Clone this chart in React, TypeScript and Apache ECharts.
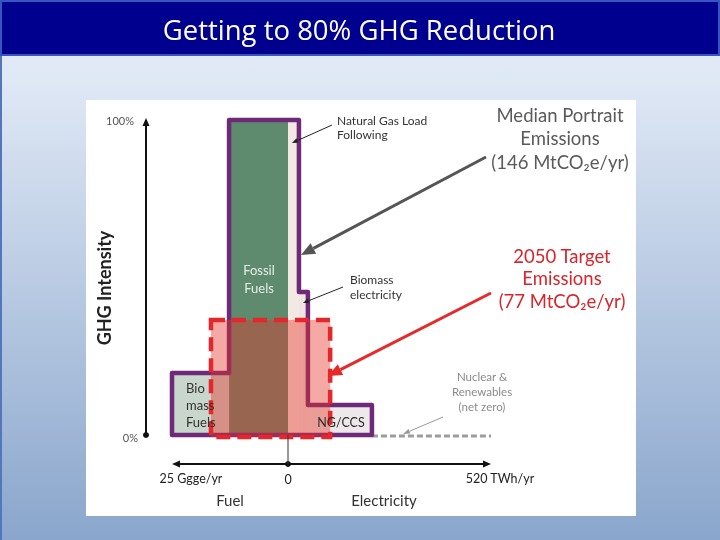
import React, { useEffect, useRef } from 'react';
import * as echarts from 'echarts';

// ---------- data ----------
const TITLE = 'Getting to 80% GHG Reduction';
const segmentNames = ['Biomass Fuels', 'Fossil Fuels', 'Natural Gas Load Following', 'Biomass electricity', 'NG/CCS', 'Nuclear & Renewables'];
const segmentSides = ['fuel', 'fuel', 'electricity', 'electricity', 'electricity', 'electricity'];
const segmentFrom = [25, 12.7, 0, 28, 51, 215]; // Ggge/yr (fuel) or TWh/yr (electricity)
const segmentTo = [12.7, 0, 28, 51, 215, 520];
const segmentIntensity = [19.7, 100, 100, 45.4, 9.5, 0]; // % GHG intensity
const targetFuel = 16.6; // Ggge/yr
const targetElectricity = 108; // TWh/yr
const targetIntensity = 36.5; // %
const fuelAxisMax = 25; // Ggge/yr
const electricityAxisMax = 520; // TWh/yr
const yTicks = [0, 100];
const yTickLabels = ['0%', '100%'];
const xTickLabels = ['25 Ggge/yr', '0', '520 TWh/yr'];
const medianEmissions = 146;
const targetEmissions = 77;

// ---------- styling ----------
const FUEL_TO_AXIS = 11.886; // width of 1 Ggge/yr in TWh-axis units on the drawing
const FONT = 'Lato';
const segmentColors = ['#c8d6cc', '#5e8b6e', '#f4e8e4', '#efe6e4', '#ede8e9', '#9c9c9c'];
const toX = (side: string, v: number) => (side === 'fuel' ? -v * FUEL_TO_AXIS : v);

function arrowEls(x1: number, y1: number, x2: number, y2: number, color: string, w: number, hl: number, hw: number, z = 50) {
  const a = Math.atan2(y2 - y1, x2 - x1);
  const bx = x2 - hl * Math.cos(a);
  const by = y2 - hl * Math.sin(a);
  const px = (-Math.sin(a) * hw) / 2;
  const py = (Math.cos(a) * hw) / 2;
  return [
    { type: 'line', z, shape: { x1, y1, x2: bx, y2: by }, style: { stroke: color, lineWidth: w } },
    { type: 'polygon', z, shape: { points: [[x2, y2], [bx + px, by + py], [bx - px, by - py]] }, style: { fill: color } },
  ];
}

function txt(text: string, x: number, y: number, size: number, color: string, align = 'center', extra: any = {}) {
  return {
    type: 'text',
    z: 60,
    x,
    y,
    ...extra,
    style: {
      text,
      fill: color,
      font: `${extra.weight || 'normal'} ${size}px ${FONT}`,
      textAlign: align,
      align,
      textVerticalAlign: 'middle',
      verticalAlign: 'middle',
      lineHeight: extra.lineHeight || size * 1.2,
    },
  };
}

export default function App() {
  const ref = useRef<HTMLDivElement>(null);
  useEffect(() => {
    if (!ref.current) return;
    const chart = echarts.init(ref.current, null, { renderer: 'svg' });

    const segData = segmentNames.map((_, i) => [
      toX(segmentSides[i], segmentFrom[i]),
      toX(segmentSides[i], segmentTo[i]),
      segmentIntensity[i],
      i,
    ]);

    const graphic: any[] = [
      { type: 'rect', z: -20, shape: { x: 0, y: 0, width: 720, height: 540 },
        style: { fill: { type: 'linear', x: 0, y: 0, x2: 0, y2: 1, colorStops: [{ offset: 0, color: '#e4ecf7' }, { offset: 0.15, color: '#dfe8f5' }, { offset: 1, color: '#8aa6cc' }] } } },
      { type: 'rect', z: -19, shape: { x: 0, y: 55, width: 2, height: 485 }, style: { fill: '#5476bd' } },
      { type: 'rect', z: -18, shape: { x: 1, y: 1, width: 718, height: 54 }, style: { fill: '#00008f', stroke: '#3556c0', lineWidth: 2 } },
      { type: 'text', z: -17, x: 359, y: 29, style: { text: TITLE, fill: '#ffffff', font: 'normal 27.5px "Open Sans"', textAlign: 'center', align: 'center', textVerticalAlign: 'middle', verticalAlign: 'middle' } },
      { type: 'rect', z: -16, shape: { x: 86, y: 100, width: 550, height: 416 }, style: { fill: '#ffffff' } },
      // segment labels
      txt('Fossil\nFuels', 259, 279, 13, '#e6eee6', 'center', { lineHeight: 18 }),
      txt('Bio\nmass\nFuels', 186, 405, 13, '#333333', 'left', { lineHeight: 17 }),
      txt('NG/CCS', 341, 422, 12.5, '#2a2a2a'),
      txt('Natural Gas Load\nFollowing', 337, 127, 12, '#333333', 'left', { lineHeight: 14 }),
      txt('Biomass\nelectricity', 350, 287, 12, '#333333', 'left', { lineHeight: 14.5 }),
      txt('Nuclear &\nRenewables\n(net zero)', 482, 391, 11.5, '#8a8a8a', 'center', { lineHeight: 15 }),
      txt(`Median Portrait\nEmissions\n(${medianEmissions} MtCO₂e/yr)`, 560, 138, 18.5, '#5a5a5a', 'center', { lineHeight: 23.5 }),
      txt(`2050 Target\nEmissions\n(${targetEmissions} MtCO₂e/yr)`, 562, 278, 18.5, '#d8252c', 'center', { lineHeight: 22.5 }),
      txt('GHG Intensity', 104, 288, 18, '#222222', 'center', { rotation: Math.PI / 2, weight: 'bold' }),
      txt('Fuel', 230, 500, 15, '#333333'),
      txt('Electricity', 384, 500, 15, '#333333'),
      ...arrowEls(332, 125, 292, 143, '#222222', 1, 6, 5),
      ...arrowEls(343, 287, 303, 303, '#222222', 1, 6, 5),
      ...arrowEls(486, 157, 301, 255, '#555555', 3, 14, 12),
      ...arrowEls(491, 293, 328, 376, '#e52a2a', 3, 14, 12),
      ...arrowEls(443, 417, 403, 434, '#999999', 1, 7, 5),
    ];

    const option: any = {
      animation: false,
      graphic,
      grid: { left: 172, right: 229, top: 120, bottom: 105 },
      xAxis: { type: 'value', min: -fuelAxisMax * FUEL_TO_AXIS, max: electricityAxisMax, show: false },
      yAxis: { type: 'value', min: yTicks[0], max: yTicks[1], show: false },
      series: [
        {
          type: 'custom',
          name: 'segments',
          z: 1,
          clip: false,
          data: segData,
          encode: { x: [0, 1], y: 2 },
          renderItem: (params: any, api: any) => {
            const x0 = api.value(0), x1 = api.value(1), h = api.value(2), i = api.value(3);
            const p0 = api.coord([x0, h]);
            const p1 = api.coord([x1, 0]);
            if (h <= 0) {
              return { type: 'line', shape: { x1: p0[0], y1: p1[1] + 1, x2: p1[0], y2: p1[1] + 1 }, style: { stroke: segmentColors[i], lineWidth: 3, lineDash: [6, 3] } };
            }
            return { type: 'rect', shape: { x: p0[0], y: p0[1], width: p1[0] - p0[0], height: p1[1] - p0[1] }, style: { fill: segmentColors[i] } };
          },
        },
        {
          type: 'custom',
          name: 'outline',
          z: 2,
          clip: false,
          data: [[0, 0]],
          renderItem: (params: any, api: any) => {
            const pts: number[][] = [];
            const n = segmentNames.length;
            for (let i = 0; i < n; i++) {
              if (segmentIntensity[i] <= 0) continue;
              const a = toX(segmentSides[i], segmentFrom[i]);
              const b = toX(segmentSides[i], segmentTo[i]);
              if (pts.length === 0) pts.push(api.coord([a, 0]));
              pts.push(api.coord([a, segmentIntensity[i]]));
              pts.push(api.coord([b, segmentIntensity[i]]));
              if (i === n - 1 || segmentIntensity[i + 1] <= 0) pts.push(api.coord([b, 0]));
            }
            return { type: 'polygon', shape: { points: pts }, style: { fill: 'none', stroke: '#6e2a78', lineWidth: 4.5, lineJoin: 'round' } };
          },
        },
        {
          type: 'custom',
          name: '2050 target',
          z: 3,
          clip: false,
          data: [[toX('fuel', targetFuel), toX('electricity', targetElectricity), targetIntensity]],
          renderItem: (params: any, api: any) => {
            const p0 = api.coord([api.value(0), api.value(2)]);
            const p1 = api.coord([api.value(1), 0]);
            const shape = { x: p0[0], y: p0[1], width: p1[0] - p0[0], height: p1[1] - p0[1] + 2 };
            return {
              type: 'group',
              children: [
                { type: 'rect', shape, style: { fill: 'rgba(232,50,38,0.42)' } },
                { type: 'rect', shape, style: { fill: 'none', stroke: '#e5262a', lineWidth: 4.5, lineDash: [14, 7] } },
              ],
            };
          },
        },
        {
          type: 'custom',
          name: 'axes',
          z: 4,
          clip: false,
          data: [[0, 0]],
          renderItem: (params: any, api: any) => {
            const origin = api.coord([0, yTicks[0]]);
            const left = api.coord([-fuelAxisMax * FUEL_TO_AXIS, yTicks[0]]);
            const right = api.coord([electricityAxisMax, yTicks[0]]);
            const top = api.coord([0, yTicks[1]]);
            const ax = origin[1] + 29;
            const yx = left[0] - 26;
            const head = (x: number, y: number, dx: number, dy: number) => {
              const L = 8, W = 3.5;
              return { type: 'polygon', shape: { points: [[x, y], [x - dx * L - dy * W, y - dy * L - dx * W], [x - dx * L + dy * W, y - dy * L + dx * W]] }, style: { fill: '#111' } };
            };
            const t = (text: string, x: number, y: number, align: string, size = 11, color = '#555') => ({
              type: 'text', x, y, style: { text, fill: color, font: `${size}px ${FONT}`, textAlign: align, align, textVerticalAlign: 'middle', verticalAlign: 'middle' },
            });
            return {
              type: 'group',
              children: [
                { type: 'line', shape: { x1: left[0] + 4, y1: ax, x2: right[0] - 4, y2: ax }, style: { stroke: '#111', lineWidth: 2 } },
                head(left[0], ax, -1, 0),
                head(right[0], ax, 1, 0),
                { type: 'circle', shape: { cx: origin[0], cy: ax, r: 3 }, style: { fill: '#111' } },
                { type: 'line', shape: { x1: origin[0], y1: origin[1], x2: origin[0], y2: ax }, style: { stroke: '#333', lineWidth: 1 } },
                { type: 'line', shape: { x1: yx, y1: origin[1], x2: yx, y2: top[1] + 2 }, style: { stroke: '#111', lineWidth: 2 } },
                head(yx, top[1] - 2, 0, -1),
                { type: 'circle', shape: { cx: yx, cy: origin[1], r: 3 }, style: { fill: '#111' } },
                t(yTickLabels[1], yx - 12, top[1], 'right'),
                t(yTickLabels[0], yx - 8, origin[1] + 2, 'right'),
                t(xTickLabels[0], left[0] + 19, ax + 14, 'center', 12.5, '#222'),
                t(xTickLabels[1], origin[0], ax + 15, 'center', 12.5, '#222'),
                t(xTickLabels[2], right[0] + 9, ax + 14, 'center', 12.5, '#222'),
              ],
            };
          },
        },
      ],
    };
    chart.setOption(option);
    return () => chart.dispose();
  }, []);
  return <div ref={ref} style={{ position: 'fixed', left: 0, top: 0, width: 720, height: 540 }} />;
}
